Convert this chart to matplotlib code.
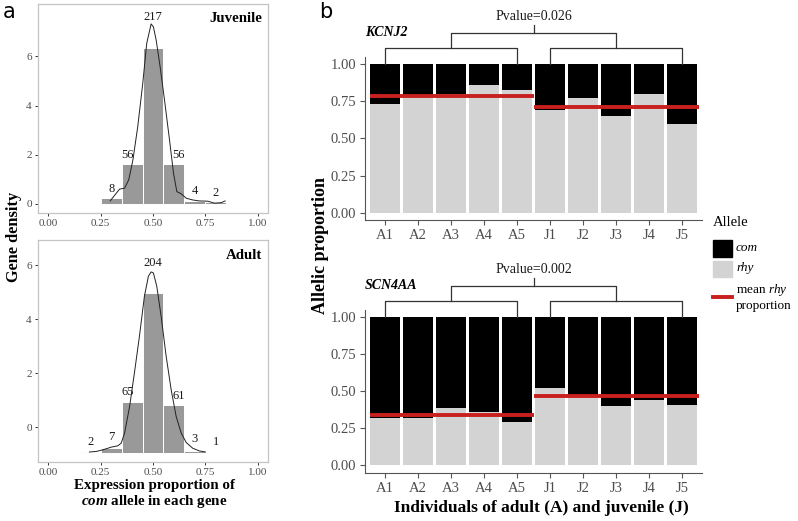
import numpy as np
import matplotlib
matplotlib.use("Agg")
import matplotlib.pyplot as plt
from matplotlib.patches import Rectangle

plt.rcParams['font.family'] = ['Liberation Serif', 'DejaVu Serif']
plt.rcParams['mathtext.fontset'] = 'custom'
plt.rcParams['mathtext.rm'] = 'Liberation Serif'
plt.rcParams['mathtext.it'] = 'Liberation Serif:italic'
plt.rcParams['mathtext.bf'] = 'Liberation Serif:bold'
plt.rcParams['mathtext.bfit'] = 'Liberation Serif:bold:italic'

# ---- panel a data ----
bin_width = 0.1
juv_bin_left = [0.25, 0.35, 0.45, 0.55, 0.65, 0.75]
juv_counts = [8, 56, 217, 56, 4, 2]
adult_bin_left = [0.15, 0.25, 0.35, 0.45, 0.55, 0.65, 0.75]
adult_counts = [2, 7, 65, 204, 61, 3, 1]
adult_baseline = -0.97   # the adult panel is drawn shifted down in the original

juv_kde_x = [0.295, 0.340, 0.364, 0.384, 0.404, 0.427, 0.451, 0.470, 0.491, 0.502,
             0.515, 0.534, 0.555, 0.579, 0.598, 0.614, 0.635, 0.659, 0.690, 0.722,
             0.762, 0.794, 0.826, 0.845]
juv_kde_y = [0.12, 0.60, 0.64, 0.98, 1.79, 3.14, 4.90, 6.53, 7.32, 7.20,
             6.67, 5.58, 4.23, 2.60, 1.25, 0.50, 0.41, 0.23, 0.16, 0.12,
             0.11, 0.03, 0.05, 0.12]
adult_kde_x = [0.196, 0.228, 0.260, 0.300, 0.332, 0.348, 0.364, 0.388, 0.411, 0.435,
               0.459, 0.478, 0.491, 0.502, 0.518, 0.539, 0.563, 0.587, 0.611, 0.635,
               0.659, 0.690, 0.722, 0.751]
adult_kde_y = [-0.92, -0.90, -0.84, -0.74, -0.69, -0.59, -0.22, 0.76, 2.00, 3.36,
               4.85, 5.59, 5.75, 5.71, 5.22, 4.10, 2.62, 1.38, 0.39, -0.22,
               -0.57, -0.78, -0.88, -0.92]

# ---- panel b data ----
individuals = ['A1', 'A2', 'A3', 'A4', 'A5', 'J1', 'J2', 'J3', 'J4', 'J5']
kcnj2_rhy = [0.73, 0.79, 0.80, 0.86, 0.83, 0.69, 0.77, 0.65, 0.80, 0.60]
kcnj2_mean = [0.79, 0.714]
kcnj2_pvalue = '0.026'
scn4aa_rhy = [0.32, 0.32, 0.39, 0.36, 0.29, 0.52, 0.46, 0.40, 0.44, 0.41]
scn4aa_mean = [0.339, 0.467]
scn4aa_pvalue = '0.002'

W, H = 798, 521
fig = plt.figure(figsize=(W / 100, H / 100), dpi=100)


def px_axes(x0, y0, x1, y1):
    # pixel box (top-left origin) -> figure axes
    return fig.add_axes([x0 / W, 1 - y1 / H, (x1 - x0) / W, (y1 - y0) / H])


def draw_hist(ax, lefts, counts, base, kx, ky, ylim, title):
    total = sum(counts)
    dens = np.array(counts) / (total * bin_width)
    lefts = np.array(lefts)
    ax.bar(lefts, dens, width=bin_width, bottom=base, align='edge',
           color='#999999', edgecolor='white', linewidth=0.7, zorder=2)
    ax.plot(kx, ky, color='#222222', lw=0.7, zorder=3)
    centers = lefts + bin_width / 2
    for c, n, d in zip(centers, counts, dens):
        x = c
        if 0.05 < abs(c - 0.5) < 0.15:
            x = c + 0.022 * np.sign(c - 0.5)
        y = max(base + d, np.interp(x, kx, ky)) + 0.25
        ax.text(x, y, str(n), ha='center', va='baseline', fontsize=9, color='#1a1a1a', zorder=4)
    ax.set_xlim(-0.05, 1.05)
    ax.set_ylim(*ylim)
    ax.set_xticks([0, 0.25, 0.5, 0.75, 1.0])
    ax.set_xticklabels(['0.00', '0.25', '0.50', '0.75', '1.00'])
    ax.set_yticks([0, 2, 4, 6])
    for s in ax.spines.values():
        s.set_color('#c4c4c4')
        s.set_linewidth(0.9)
    ax.tick_params(length=2.5, width=0.7, color='#333333', labelsize=8,
                   labelcolor='#4d4d4d', pad=2)
    ax.text(0.975, 0.93, title, transform=ax.transAxes, ha='right', va='center',
            fontsize=10.7, fontweight='bold')


ax_j = px_axes(38, 4, 268, 212.5)
draw_hist(ax_j, juv_bin_left, juv_counts, 0.0, juv_kde_x, juv_kde_y, (-0.35, 8.13), 'Juvenile')
ax_a = px_axes(38, 239.5, 268, 462)
draw_hist(ax_a, adult_bin_left, adult_counts, adult_baseline, adult_kde_x, adult_kde_y,
          (-1.29, 6.95), 'Adult')


def draw_bars(ax, rhy, means, pvalue, gene):
    x = np.arange(1, len(individuals) + 1)
    rhy = np.array(rhy)
    ax.bar(x, rhy, width=0.9, color='#d3d3d3', zorder=2)
    ax.bar(x, 1 - rhy, bottom=rhy, width=0.9, color='black', zorder=2)
    ax.hlines(means[0], 0.55, 5.5, color='#c8201e', lw=2.8, zorder=3)
    ax.hlines(means[1], 5.5, 10.5, color='#c8201e', lw=2.8, zorder=3)
    ax.set_xlim(0.4, 10.6)
    ax.set_ylim(-0.05, 1.05)
    ax.set_xticks(x)
    ax.set_xticklabels(individuals)
    ax.set_yticks([0, 0.25, 0.5, 0.75, 1.0])
    ax.set_yticklabels(['0.00', '0.25', '0.50', '0.75', '1.00'])
    for s in ['top', 'right']:
        ax.spines[s].set_visible(False)
    for s in ['left', 'bottom']:
        ax.spines[s].set_color('#555555')
        ax.spines[s].set_linewidth(0.8)
    ax.tick_params(length=3.5, width=0.8, color='#555555', labelsize=10.5,
                   labelcolor='#4d4d4d', pad=3)
    # significance brackets
    lc = dict(color='#333333', lw=0.9, clip_on=False)
    y_low, y_up, y_top = 1.11, 1.21, 1.265
    for a, b in [(1, 5), (6, 10)]:
        ax.plot([a, a, b, b], [1.0, y_low, y_low, 1.0], **lc)
    ax.plot([3, 3, 8, 8], [y_low, y_up, y_up, y_low], **lc)
    ax.plot([5.5, 5.5], [y_up, y_top], **lc)
    ax.text(5.5, 1.325, 'Pvalue=' + pvalue, ha='center', va='center', fontsize=10,
            color='#1a1a1a', clip_on=False)
    ax.text(0.4, 1.215, gene, ha='left', va='center', fontsize=10,
            fontweight='bold', fontstyle='italic', clip_on=False)


ax_k = px_axes(365, 57, 702, 220)
draw_bars(ax_k, kcnj2_rhy, kcnj2_mean, kcnj2_pvalue, 'KCNJ2')
ax_s = px_axes(365, 310, 702, 472.5)
draw_bars(ax_s, scn4aa_rhy, scn4aa_mean, scn4aa_pvalue, 'SCN4AA')

# overlay for labels and legend, in pixel coordinates
ov = fig.add_axes([0, 0, 1, 1], facecolor='none')
ov.set_xlim(0, W)
ov.set_ylim(H, 0)
ov.axis('off')

ov.text(9, 12, 'a', family='DejaVu Sans', fontsize=15, ha='center', va='center')
ov.text(326, 12, 'b', family='DejaVu Sans', fontsize=15, ha='center', va='center')

ov.text(14, 236.5, 'Gene density', rotation=90, ha='center', va='center',
        fontsize=11.8, fontweight='bold')
ov.text(154, 485, 'Expression proportion of', ha='center', va='center',
        fontsize=10.8, fontweight='bold')
ov.text(154, 502, r'$\mathbfit{com}$ allele in each gene', ha='center', va='center',
        fontsize=10.8, fontweight='bold')

ov.text(320.5, 246, 'Allelic proportion', rotation=90, ha='center', va='center',
        fontsize=13, fontweight='bold')
ov.text(541.5, 508, 'Individuals of adult (A) and juvenile (J)', ha='center',
        va='center', fontsize=12.5, fontweight='bold')

# legend
ov.text(712.7, 222.7, 'Allele', ha='left', va='center', fontsize=10.5)
ov.add_patch(Rectangle((712.7, 240), 19, 17, color='black'))
ov.add_patch(Rectangle((712.7, 260.5), 19, 16.5, color='#d3d3d3'))
ov.plot([713, 731.7], [296.7, 296.7], color='#c8201e', lw=2.8)
ov.text(736, 248, 'com', ha='left', va='center', fontsize=9.5, fontstyle='italic')
ov.text(736, 268, 'rhy', ha='left', va='center', fontsize=9.5, fontstyle='italic')
ov.text(736, 290, r'mean $\mathit{rhy}$', ha='left', va='center', fontsize=9.5)
ov.text(736, 305.5, 'proportion', ha='left', va='center', fontsize=9.5)

fig.savefig('out.png', dpi=100)
